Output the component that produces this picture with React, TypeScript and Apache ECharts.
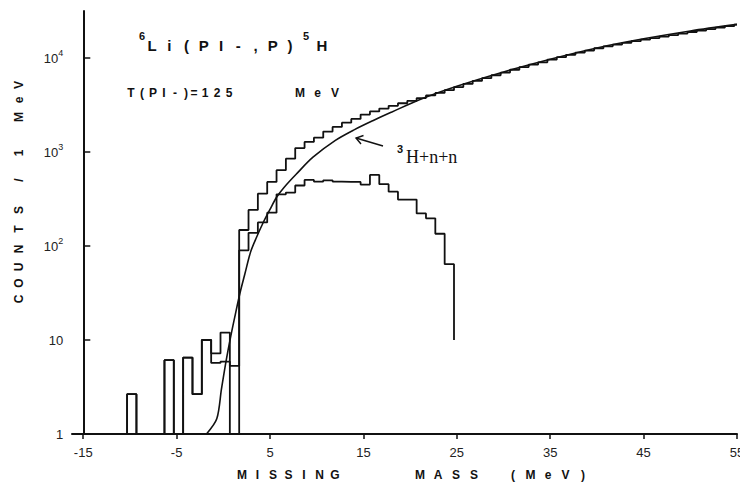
import React, { useEffect, useRef } from 'react';
import * as echarts from 'echarts';

// ---- data ----
const binStart = -10.3; // left edge of first 1 MeV bin
const binWidth = 1;
// upper histogram (all events), counts per 1 MeV bin
const allCounts = [
  2.65, 0, 0, 0, 6.1, 0, 6.5, 2.65, 10, 7.2, 12, 0,
  148, 242, 360, 480, 640, 850, 1100, 1280, 1420, 1650,
  1850, 2050, 2250, 2500, 2700, 2900, 3100, 3300, 3500, 3750,
  4000, 4250, 4550, 4900, 5300, 5700, 6100, 6550, 7000, 7500,
  8000, 8500, 9000, 9600, 10200, 10800, 11400, 12000, 12700, 13300,
  13900, 14500, 15100, 15700, 16300, 16900, 17500, 18200, 18900, 19600,
  20300, 21000, 21800, 22600,
];
const allEnd = 55;
// lower histogram
const cutCounts = [
  2.65, 0, 0, 0, 6.1, 0, 6.5, 2.65, 10, 5.7, 5.9, 5.3,
  90, 138, 178, 226, 355, 370, 440, 505, 485, 500,
  485, 480, 480, 450, 570, 455, 378, 312, 312, 222,
  197, 135, 64,
];
const cutEndDrop = 10;
// 3H+n+n phase-space curve
const curveX = [-1.8, -0.7, -0.2, 0.3, 0.8, 1.3, 1.8, 2.3, 2.9, 3.5, 4.3, 5, 5.7, 6.5, 7.8, 9.6, 12, 14, 16, 18, 21, 25, 30, 35, 40, 45, 50, 55];
const curveY = [1, 1.45, 3, 6, 11, 19, 32, 50, 85, 120, 180, 245, 330, 420, 580, 880, 1330, 1720, 2150, 2650, 3600, 5000, 7100, 9700, 12800, 16000, 19400, 22800];
const xTicks = [-15, -5, 5, 15, 25, 35, 45, 55];
const yTicks = [1, 10, 100, 1000, 10000];

function stepData(counts: number[], start: number, width: number, endX?: number, endDrop?: number) {
  const pts: number[][] = [[start, 1]];
  counts.forEach((c, i) => pts.push([+(start + i * width).toFixed(3), Math.max(c, 1)]));
  const last = Math.max(counts[counts.length - 1], 1);
  const ex = endX !== undefined ? endX : +(start + counts.length * width).toFixed(3);
  pts.push([ex, last]);
  if (endDrop !== undefined) pts.push([ex, endDrop]);
  return pts;
}

const INK = '#111';
const SANS = '"Liberation Sans", Arial, sans-serif';

function spaced(text: string, x0: number, pitch: number, y: number, font: string) {
  return text.split('').map((ch, i) => ({
    type: 'text',
    x: x0 + i * pitch,
    y,
    silent: true,
    style: { text: ch, font, fill: INK, align: 'center', verticalAlign: 'middle' },
  }));
}

function vertical(chars: string, ys: number[], x: number, font: string) {
  return chars.split('').map((ch, i) => ({
    type: 'text',
    x,
    y: ys[i],
    rotation: Math.PI / 2,
    silent: true,
    style: { text: ch, font, fill: INK, align: 'center', verticalAlign: 'middle' },
  }));
}

export default function App() {
  const ref = useRef<HTMLDivElement>(null);
  useEffect(() => {
    if (!ref.current) return;
    const chart = echarts.init(ref.current, undefined, { renderer: 'svg' });
    const titleFont = `bold 15px ${SANS}`;
    const supFont = `bold 11px ${SANS}`;
    const labFont = `bold 12px ${SANS}`;
    const graphic: any[] = [
      // title 6Li(PI-,P)5H
      { type: 'text', x: 142, y: 36, silent: true, style: { text: '6', font: supFont, fill: INK, align: 'center', verticalAlign: 'middle' } },
      ...spaced('Li(PI-,P)', 152, 17.25, 45, titleFont),
      { type: 'text', x: 306, y: 36, silent: true, style: { text: '5', font: supFont, fill: INK, align: 'center', verticalAlign: 'middle' } },
      { type: 'text', x: 322, y: 45, silent: true, style: { text: 'H', font: titleFont, fill: INK, align: 'center', verticalAlign: 'middle' } },
      // T(PI-)=125 MeV
      ...spaced('T(PI-)', 131, 11, 93, labFont),
      { type: 'text', x: 194, y: 93, silent: true, style: { text: '=', font: labFont, fill: INK, align: 'center', verticalAlign: 'middle' } },
      ...spaced('125', 205, 12, 93, labFont),
      ...spaced('MeV', 300, 17.5, 93, labFont),
      // axis titles
      ...spaced('MISSING', 242, 15.5, 475, labFont),
      ...spaced('MASS', 420, 18, 475, labFont),
      ...spaced('(MeV)', 513, 17.5, 475, labFont),
      ...vertical('COUNTS/1MeV', [299, 283, 267, 249, 229, 210, 180, 153, 117, 100, 85], 19, labFont),
      // annotation
      { type: 'text', x: 400, y: 149, silent: true, style: { text: '3', font: `bold 11px ${SANS}`, fill: INK, align: 'center', verticalAlign: 'middle' } },
      { type: 'text', x: 406, y: 157, silent: true, style: { text: 'H+n+n', font: '18px "Liberation Serif", "Times New Roman", serif', fill: INK, align: 'left', verticalAlign: 'middle' } },
      { type: 'line', silent: true, shape: { x1: 356, y1: 138, x2: 383, y2: 146 }, style: { stroke: INK, lineWidth: 1.4 } },
      { type: 'polyline', silent: true, shape: { points: [[363.5, 135.5], [356, 138], [361, 144]] }, style: { stroke: INK, lineWidth: 1.4, fill: 'none' } },
    ];

    const option: any = {
      animation: false,
      backgroundColor: '#fff',
      grid: { left: 72, right: 3, top: 11, bottom: 54, containLabel: false, outerBoundsMode: 'none' },
      xAxis: {
        type: 'value',
        min: -16.2,
        max: 55,
        axisLine: { show: true, onZero: false, lineStyle: { color: INK, width: 2 } },
        axisTick: { show: true, inside: false, length: 5, customValues: xTicks, lineStyle: { color: INK, width: 1.5 } },
        axisLabel: { show: true, customValues: xTicks, margin: 12, color: '#222', fontSize: 13, fontFamily: SANS, hideOverlap: false },
        splitLine: { show: false },
      },
      yAxis: {
        type: 'log',
        logBase: 10,
        min: 1,
        max: 31623,
        offset: -11.3,
        axisLine: { show: true, onZero: false, lineStyle: { color: INK, width: 2 } },
        axisTick: { show: true, inside: true, length: 7, customValues: yTicks, lineStyle: { color: INK, width: 1.5 } },
        axisLabel: {
          show: true,
          customValues: yTicks,
          margin: 20,
          color: '#222',
          fontSize: 13,
          fontFamily: SANS,
          formatter: (v: number) => {
            const e = Math.round(Math.log10(v));
            if (Math.abs(Math.log10(v) - e) > 1e-6) return '';
            if (e === 0) return '{b|1}';
            if (e === 1) return '{b|10}';
            return `{b|10}{s|${e}}`;
          },
          rich: {
            b: { fontSize: 13, fontFamily: SANS, color: '#222', lineHeight: 20 },
            s: { fontSize: 9, fontFamily: SANS, color: '#222', lineHeight: 10, verticalAlign: 'top' },
          },
        },
        splitLine: { show: false },
      },
      series: [
        {
          type: 'line',
          data: stepData(cutCounts, binStart, binWidth, undefined, cutEndDrop),
          step: 'end',
          symbol: 'none',
          lineStyle: { color: INK, width: 1.8 },
          z: 3,
        },
        {
          type: 'line',
          data: stepData(allCounts, binStart, binWidth, allEnd),
          step: 'end',
          symbol: 'none',
          lineStyle: { color: INK, width: 1.8 },
          z: 3,
        },
        {
          type: 'line',
          data: curveX.map((x, i) => [x, curveY[i]]),
          smooth: 0.3,
          symbol: 'none',
          lineStyle: { color: INK, width: 1.6 },
          z: 4,
        },
      ],
      graphic,
    };
    chart.setOption(option);
    return () => chart.dispose();
  }, []);
  return <div ref={ref} style={{ position: 'fixed', left: 0, top: 0, width: 740, height: 488, background: '#fff' }} />;
}
